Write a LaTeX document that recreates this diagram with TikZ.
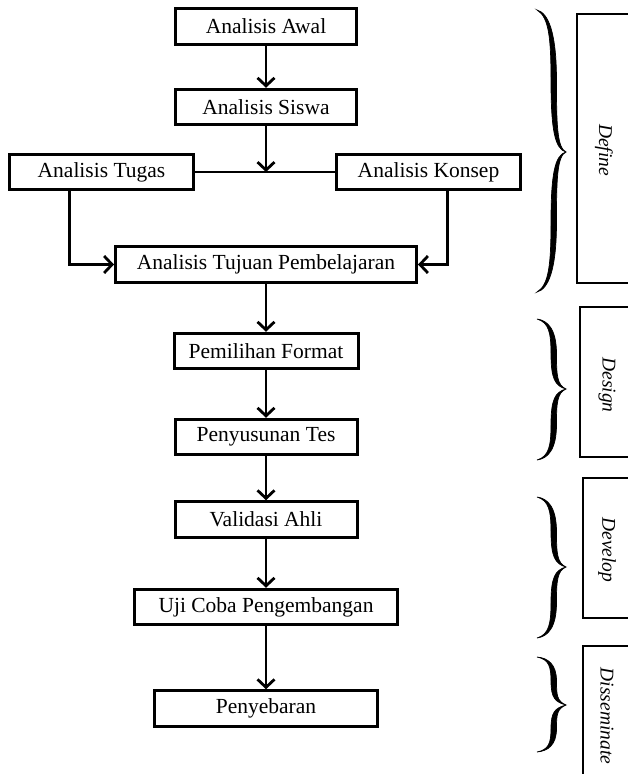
\documentclass[tikz,border=0pt]{standalone}
\usepackage{fontspec}
\setmainfont{Liberation Serif}
\usetikzlibrary{arrows.meta}
\tikzset{
  box/.style={draw, line width=3pt, minimum height=35.5pt, inner sep=0pt,
    font=\fontsize{21.5}{25}\selectfont},
  conn/.style={line width=2.8pt, -{Straight Barb[length=8pt,width=17pt]}},
  plainline/.style={line width=2.8pt},
  phase/.style={draw, line width=2.6pt},
  phaselabel/.style={font=\fontsize{19.5}{23}\selectfont\itshape, rotate=-90, inner sep=0pt},
  bracefill/.style={fill=black, draw=black, line width=0.7pt}
}
\newcommand\mybrace[3]{%
  \fill[bracefill] (537,#1)
    .. controls (549,{#1+0.05*(#2-#1)}) and (551,{#1+0.2*(#2-#1)}) .. (551,{0.5*(#1+#2)})
    .. controls (551,{#1+0.85*(#2-#1)}) and (555,{#2-3}) .. (566,#2)
    .. controls (555,{#2+3}) and (551,{#2+0.15*(#3-#2)}) .. (551,{0.5*(#2+#3)})
    .. controls (551,{#2+0.8*(#3-#2)}) and (549,{#3-0.05*(#3-#2)}) .. (537,#3)
    .. controls (548,{#3-0.02*(#3-#2)}) and (556.5,{#3-0.15*(#3-#2)}) .. (556.5,{0.5*(#2+#3)})
    .. controls (556.5,{#2+0.2*(#3-#2)}) and (557,{#2+4}) .. (566,#2)
    .. controls (557,{#2-4}) and (556.5,{#1+0.8*(#2-#1)}) .. (556.5,{0.5*(#1+#2)})
    .. controls (556.5,{#1+0.15*(#2-#1)}) and (548,{#1+0.02*(#2-#1)}) .. (537,#1) -- cycle;
}
\begin{document}
\begin{tikzpicture}[x=1pt,y=-1pt]
\useasboundingbox (0,0) rectangle (628,774);
\clip (0,0) rectangle (628,774);
\fill[white] (0,0) rectangle (628,774);

% main flow
\node[box, minimum width=181pt] (awal) at (266,26.5) {Analisis Awal};
\node[box, minimum width=181pt] (siswa) at (266,107) {Analisis Siswa};
\node[box, minimum width=184pt] (tugas) at (101.5,172) {Analisis Tugas};
\node[box, minimum width=184pt] (konsep) at (428.5,172) {Analisis Konsep};
\node[box, minimum width=301pt] (tujuan) at (266,264.5) {Analisis Tujuan Pembelajaran};
\node[box, minimum width=184pt] (format) at (266,351) {Pemilihan Format};
\node[box, minimum width=182pt] (tes) at (266,437) {Penyusunan Tes};
\node[box, minimum width=182pt] (validasi) at (266,519.5) {Validasi Ahli};
\node[box, minimum width=263pt] (uji) at (266,607) {Uji Coba Pengembangan};
\node[box, minimum width=223pt] (sebar) at (266,708.5) {Penyebaran};

\coordinate (join) at (266,172);

\draw[conn] (awal) -- (siswa);
\draw[plainline] (tugas.east) -- (konsep.west);
\draw[conn] (siswa.south) -- (join);
\draw[conn] (tugas.south west) ++(61.5,0) |- (tujuan.west);
\draw[conn] (konsep.south west) ++(112.5,0) |- (tujuan.east);
\draw[conn] (tujuan) -- (format);
\draw[conn] (format) -- (tes);
\draw[conn] (tes) -- (validasi);
\draw[conn] (validasi) -- (uji);
\draw[conn] (uji) -- (sebar);

% braces
\mybrace{10}{152}{292}
\mybrace{319}{389}{460}
\mybrace{497}{567}{638}
\mybrace{657}{705}{752}

% phase boxes
\draw[phase] (577,14) rectangle (650,283);
\node[phaselabel] (ldefine) at (604,150) {Define};
\draw[phase] (580,307) rectangle (650,457);
\node[phaselabel] (ldesign) at (607,385) {Design};
\draw[phase] (583,478) rectangle (650,618);
\node[phaselabel] (ldevelop) at (607,550) {Develop};
\draw[phase] (583,646) rectangle (650,790);
\node[phaselabel] (ldissem) at (607,716) {Disseminate};
\end{tikzpicture}
\end{document}
